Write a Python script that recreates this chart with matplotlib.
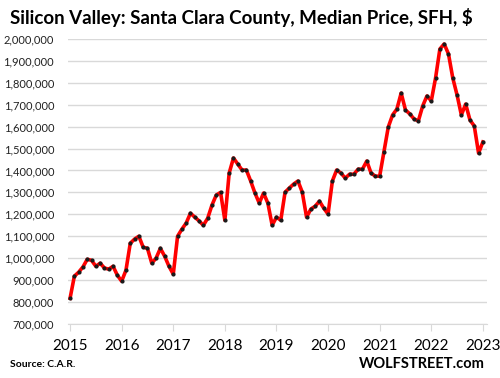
import numpy as np
import matplotlib
matplotlib.use('Agg')
import matplotlib.pyplot as plt
from matplotlib.ticker import FuncFormatter

plt.rcParams['font.family'] = ['Lato', 'DejaVu Sans']

# median price, monthly, Jan 2015 - Jan 2023 (thousands of $)
p2015 = [817, 918, 936, 960, 995, 990, 963, 977, 955, 950, 963, 922]
p2016 = [895, 945, 1068, 1087, 1100, 1050, 1045, 977, 1000, 1045, 1009, 963]
p2017 = [927, 1100, 1132, 1160, 1205, 1187, 1170, 1150, 1182, 1242, 1288, 1300]
p2018 = [1173, 1388, 1457, 1429, 1402, 1402, 1352, 1297, 1251, 1297, 1251, 1150]
p2019 = [1187, 1173, 1301, 1320, 1338, 1352, 1301, 1187, 1224, 1237, 1260, 1228]
p2020 = [1201, 1352, 1402, 1388, 1365, 1383, 1383, 1406, 1406, 1443, 1388, 1374]
p2021 = [1374, 1486, 1598, 1653, 1680, 1753, 1676, 1658, 1635, 1626, 1694, 1740]
p2022 = [1717, 1822, 1954, 1977, 1932, 1822, 1744, 1653, 1703, 1630, 1603, 1479]
p2023 = [1530]

prices = np.array(p2015 + p2016 + p2017 + p2018 + p2019 + p2020 + p2021 + p2022 + p2023) * 1000
months = 2015 + np.arange(len(prices)) / 12
years = list(range(2015, 2024))

fig = plt.figure(figsize=(5, 3.78), dpi=100)
ax = fig.add_axes([0.136, 0.143, 0.838, 0.754])

ax.plot(months, prices, color='#ff0000', lw=2.6, zorder=3)
ax.plot(months, prices, 'o', color='#1a1a1a', ms=2.0, zorder=4)

ax.set_ylim(700000, 2000000)
ax.set_yticks(np.arange(700000, 2000001, 100000))
ax.yaxis.set_major_formatter(FuncFormatter(lambda v, p: f'{int(v):,}'))
ax.set_xlim(2014.96, 2023.08)
ax.set_xticks(years)
ax.set_xticklabels([str(y) for y in years])

ax.grid(axis='y', color='#d9d9d9', lw=1)
ax.set_axisbelow(True)
for s in ['top', 'right', 'left']:
    ax.spines[s].set_visible(False)
ax.spines['bottom'].set_color('#d9d9d9')
ax.tick_params(axis='y', length=0, labelsize=8, pad=10, labelcolor='#222222')
ax.tick_params(axis='x', length=5, color='#d9d9d9', labelsize=11, pad=6)

fig.text(0.02, 0.955, 'Silicon Valley: Santa Clara County, Median Price, SFH, $',
         fontsize=13.5, fontweight='bold', va='center', ha='left')
fig.text(0.02, 0.037, 'Source: C.A.R.', fontsize=7.5, fontweight='bold', va='center')
fig.text(0.97, 0.037, 'WOLFSTREET.com', fontsize=10.5, fontweight='bold', va='center', ha='right')

fig.savefig('out.png', dpi=100)
